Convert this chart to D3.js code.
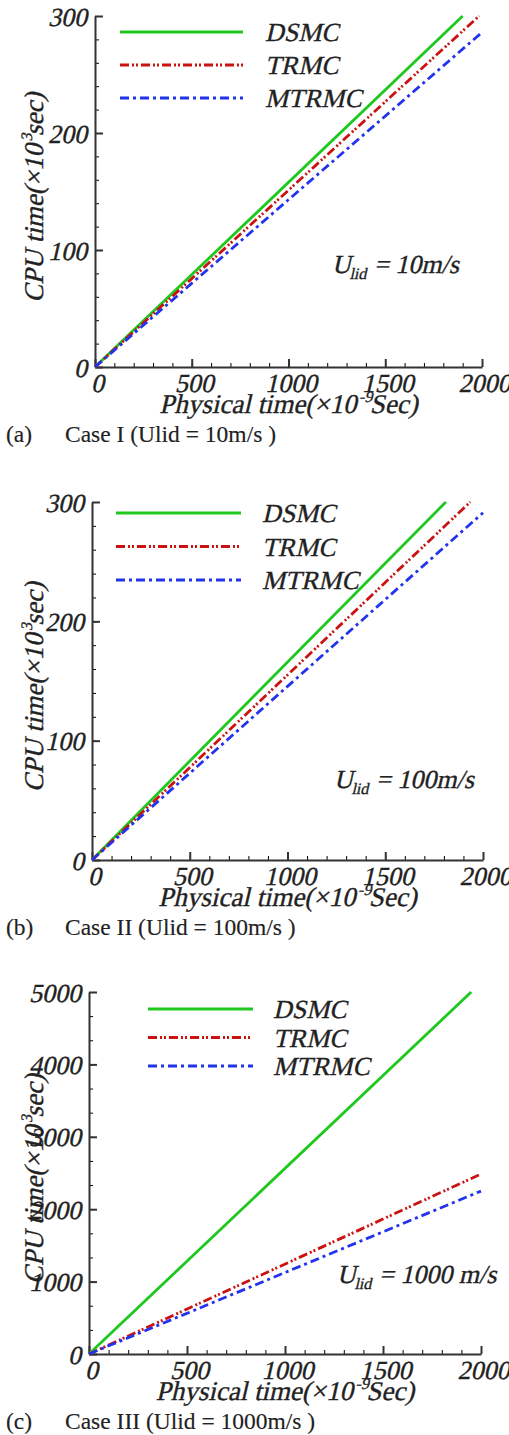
<!DOCTYPE html>
<html>
<head>
<meta charset="utf-8">
<script src="https://cdn.jsdelivr.net/npm/d3@7"></script>
<style>
  body { margin: 0; background: #fff; }
  svg { display: block; }
  text { font-family: "Liberation Serif", "Times New Roman", serif; fill: #222; stroke: #222; stroke-width: 0.35px; }
</style>
</head>
<body>
<svg id="chart"></svg>
<script>
// values
methods = ["DSMC", "TRMC", "MTRMC"];
xTicks = [0, 500, 1000, 1500, 2000];
yTicksA = [0, 100, 200, 300];
yTicksC = [0, 1000, 2000, 3000, 4000, 5000];
// [physical time, cpu time] end points of each straight line
caseI_dsmc = [[0, 0], [1900, 300]];
caseI_trmc = [[0, 0], [1985, 300]];
caseI_mtrmc = [[0, 0], [2000, 286]];
caseII_dsmc = [[0, 0], [1810, 300]];
caseII_trmc = [[0, 0], [1935, 300]];
caseII_mtrmc = [[0, 0], [2000, 291]];
caseIII_dsmc = [[0, 0], [1950, 5000]];
caseIII_trmc = [[0, 0], [2000, 2485]];
caseIII_mtrmc = [[0, 0], [2000, 2250]];
captions = ["Case I (Ulid = 10m/s )", "Case II (Ulid = 100m/s )", "Case III (Ulid = 1000m/s )"];
tags = ["(a)", "(b)", "(c)"];
speeds = ["= 10m/s", "= 100m/s", "= 1000 m/s"];

const style = ({
    colors: ["#1ec81e", "#cc1111", "#2233ee"],
    dash: [null, "9,3,2,2,2,3", "9,4,3,4"],
    axis: "#333",
    slant: "skewX(-13)"
})

const svg = d3.select("#chart")
    .attr("width", 509)
    .attr("height", 1435);

// slanted serif text, placed by its own transform so the skew does not drift
slanted = (parent, x, y, size, extra = "") => parent.append("text")
    .attr("transform", `translate(${x},${y}) ${extra} ${style.slant}`)
    .style("font-size", size + "px");

panel = (cfg) => {
    const x = d3.scaleLinear().domain([0, 2000]).range([cfg.left, cfg.right]);
    const y = d3.scaleLinear().domain([0, cfg.ymax]).range([cfg.bottom, cfg.top]);
    const g = svg.append("g");

    // minor ticks
    g.append("g")
        .attr("transform", `translate(0,${cfg.bottom})`)
        .call(d3.axisBottom(x).tickValues(d3.range(0, 2001, 100)).tickSize(-4).tickFormat(""))
        .call(a => a.select(".domain").remove());
    g.append("g")
        .attr("transform", `translate(${cfg.left},0)`)
        .call(d3.axisLeft(y).tickValues(d3.range(0, cfg.ymax + 1, cfg.ymax / 15)).tickSize(-4).tickFormat(""))
        .call(a => a.select(".domain").remove());

    // major ticks + labels
    const xa = g.append("g")
        .attr("transform", `translate(0,${cfg.bottom})`)
        .call(d3.axisBottom(x).tickValues(xTicks).tickFormat(d3.format("d"))
            .tickSize(-8).tickSizeOuter(0));
    const ya = g.append("g")
        .attr("transform", `translate(${cfg.left},0)`)
        .call(d3.axisLeft(y).tickValues(cfg.yticks).tickFormat(d3.format("d"))
            .tickSize(-8).tickSizeOuter(0));
    [xa, ya].forEach(a => {
        a.attr("font-family", null).attr("font-size", null);
        a.selectAll("line, path").attr("stroke", style.axis).attr("stroke-width", 2);
        a.selectAll("text")
            .attr("x", null).attr("y", null).attr("dy", null)
            .style("font-size", "26px")
            .attr("fill", "#222");
    });
    xa.selectAll("text").attr("transform", `translate(2,25) ${style.slant}`);
    ya.selectAll("text").attr("transform", `translate(-8,9) ${style.slant}`);

    const line = d3.line().x(d => x(d[0])).y(d => y(d[1]));
    cfg.series.forEach((s, i) => {
        g.append("path")
            .datum(s)
            .attr("d", line)
            .attr("fill", "none")
            .attr("stroke", style.colors[i])
            .attr("stroke-width", 2.8)
            .attr("stroke-dasharray", style.dash[i]);
    });

    // legend
    methods.forEach((m, i) => {
        const ly = cfg.legY + i * cfg.legGap;
        g.append("line")
            .attr("x1", cfg.legX1).attr("x2", cfg.legX2)
            .attr("y1", ly).attr("y2", ly)
            .attr("stroke", style.colors[i])
            .attr("stroke-width", 3.2)
            .attr("stroke-dasharray", style.dash[i]);
        slanted(g, cfg.legText, ly + 9, 26).text(m);
    });

    // U_lid note
    const note = slanted(g, cfg.noteX, cfg.noteY, 26);
    note.append("tspan").text("U");
    note.append("tspan").attr("dy", 6).style("font-size", "16px").text("lid");
    note.append("tspan").attr("dy", -6).text(" " + speeds[cfg.i]);

    // axis titles
    const xt = slanted(g, (cfg.left + cfg.right) / 2, cfg.bottom + 46, 27)
        .attr("text-anchor", "middle");
    xt.append("tspan").text("Physical time(×10");
    xt.append("tspan").attr("dy", -11).style("font-size", "16px").text("-9");
    xt.append("tspan").attr("dy", 11).text("Sec)");

    const yt = slanted(g, 43, (cfg.top + cfg.bottom) / 2 + 6, 27, "rotate(-90)")
        .attr("text-anchor", "middle");
    yt.append("tspan").text("CPU time(×10");
    yt.append("tspan").attr("dy", -11).style("font-size", "16px").text("3");
    yt.append("tspan").attr("dy", 11).text("sec)");

    // caption
    g.append("text").attr("x", 6).attr("y", cfg.bottom + 75)
        .style("font-size", "23.5px").style("stroke-width", "0.15px").text(tags[cfg.i]);
    g.append("text").attr("x", 65).attr("y", cfg.bottom + 75)
        .style("font-size", "23.5px").style("stroke-width", "0.15px").text(captions[cfg.i]);
};

panel({i: 0, left: 95, right: 482, top: 16, bottom: 367, ymax: 300, yticks: yTicksA,
    series: [caseI_dsmc, caseI_trmc, caseI_mtrmc],
    legY: 32, legGap: 33, legX1: 120, legX2: 243, legText: 265, noteX: 332, noteY: 273});
panel({i: 1, left: 92, right: 483, top: 502, bottom: 860, ymax: 300, yticks: yTicksA,
    series: [caseII_dsmc, caseII_trmc, caseII_mtrmc],
    legY: 513, legGap: 33.5, legX1: 116, legX2: 241, legText: 262, noteX: 334, noteY: 788});
panel({i: 2, left: 89, right: 481, top: 992, bottom: 1354, ymax: 5000, yticks: yTicksC,
    series: [caseIII_dsmc, caseIII_trmc, caseIII_mtrmc],
    legY: 1009, legGap: 28.5, legX1: 148, legX2: 253, legText: 273, noteX: 337, noteY: 1283});
</script>
</body>
</html>
